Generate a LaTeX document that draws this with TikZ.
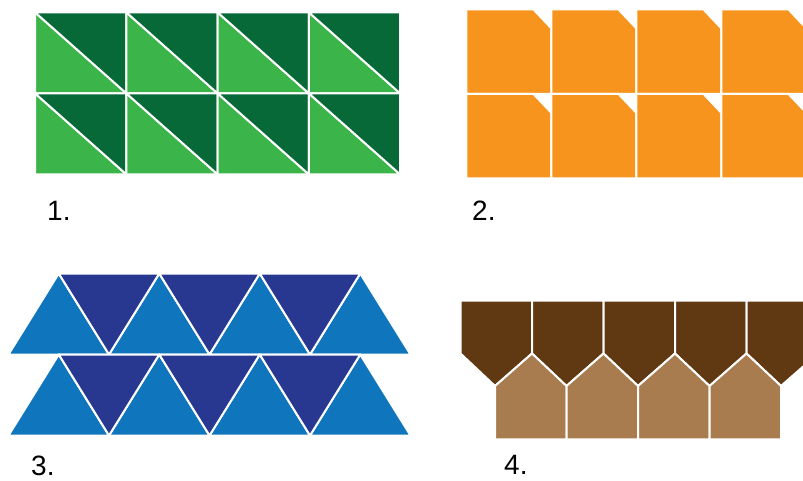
\documentclass[tikz,border=0pt]{standalone}
\usepackage{fontspec}
\setmainfont{Liberation Sans}
\definecolor{gdark}{HTML}{066937}
\definecolor{glight}{HTML}{3BB54A}
\definecolor{orng}{HTML}{F7941E}
\definecolor{bdark}{HTML}{283891}
\definecolor{blight}{HTML}{0F75BC}
\definecolor{brdark}{HTML}{603913}
\definecolor{brlight}{HTML}{A97C50}
\begin{document}
\begin{tikzpicture}[x=1pt,y=-1pt,
  tile/.style={draw=white, line width=2pt, line join=round},
  lab/.style={font=\fontsize{28}{29}\selectfont, inner sep=0pt, anchor=base west}]
\useasboundingbox (0,0) rectangle (803,481);
\clip (0,0) rectangle (803,481);
% Panel 1: green squares split by diagonals
\foreach \i in {0,...,3}{
  \foreach \j in {0,1}{
    \pgfmathsetmacro\xa{35+91.25*\i}
    \pgfmathsetmacro\xb{\xa+91.25}
    \pgfmathsetmacro\ya{12.3+81*\j}
    \pgfmathsetmacro\yb{\ya+81}
    \filldraw[tile, fill=glight] (\xa,\ya) -- (\xa,\yb) -- (\xb,\yb) -- cycle;
    \filldraw[tile, fill=gdark] (\xa,\ya) -- (\xb,\ya) -- (\xb,\yb) -- cycle;
  }
}
% Panel 2: orange squares with a cut corner
\foreach \i in {0,...,3}{
  \foreach \j in {0,1}{
    \pgfmathsetmacro\xa{466.3+85*\i}
    \pgfmathsetmacro\xb{\xa+85}
    \pgfmathsetmacro\xc{\xb-18}
    \pgfmathsetmacro\ya{9.3+84.5*\j}
    \pgfmathsetmacro\yb{\ya+84.5}
    \pgfmathsetmacro\yc{\ya+19}
    \filldraw[tile, fill=orng] (\xa,\ya) -- (\xc,\ya) -- (\xb,\yc) -- (\xb,\yb) -- (\xa,\yb) -- cycle;
  }
}
% Panel 3: blue triangles
\foreach \j in {0,1}{
  \pgfmathsetmacro\yt{273.5+81*\j}
  \pgfmathsetmacro\yb{\yt+81}
  \foreach \k in {0,...,3}{
    \pgfmathsetmacro\ba{8.5+100.5*\k}
    \pgfmathsetmacro\bb{\ba+100.5}
    \pgfmathsetmacro\aa{\ba+50.25}
    \filldraw[tile, fill=blight] (\ba,\yb) -- (\bb,\yb) -- (\aa,\yt) -- cycle;
  }
  \foreach \k in {0,...,2}{
    \pgfmathsetmacro\aa{58.75+100.5*\k}
    \pgfmathsetmacro\ab{\aa+100.5}
    \pgfmathsetmacro\bb{\aa+50.25}
    \filldraw[tile, fill=bdark] (\aa,\yt) -- (\ab,\yt) -- (\bb,\yb) -- cycle;
  }
}
% Panel 4: brown pentagons
\foreach \i in {0,...,4}{
  \pgfmathsetmacro\L{460.5+71.5*\i}
  \pgfmathsetmacro\R{\L+71.5}
  \pgfmathsetmacro\C{\L+34.5}
  \filldraw[tile, fill=brdark] (\L,300.7) -- (\R,300.7) -- (\R,353.5) -- (\C,386) -- (\L,353.5) -- cycle;
}
\foreach \k in {0,...,3}{
  \pgfmathsetmacro\A{495+71.5*\k}
  \pgfmathsetmacro\B{\A+71.5}
  \pgfmathsetmacro\P{532+71.5*\k}
  \filldraw[tile, fill=brlight] (\A,439.3) -- (\A,386) -- (\P,353.5) -- (\B,386) -- (\B,439.3) -- cycle;
}
% Labels
\node[lab] (l1) at (47,221) {1.};
\node[lab] (l2) at (472,221) {2.};
\node[lab] (l3) at (31,475) {3.};
\node[lab] (l4) at (504,474) {4.};
\end{tikzpicture}
\end{document}
